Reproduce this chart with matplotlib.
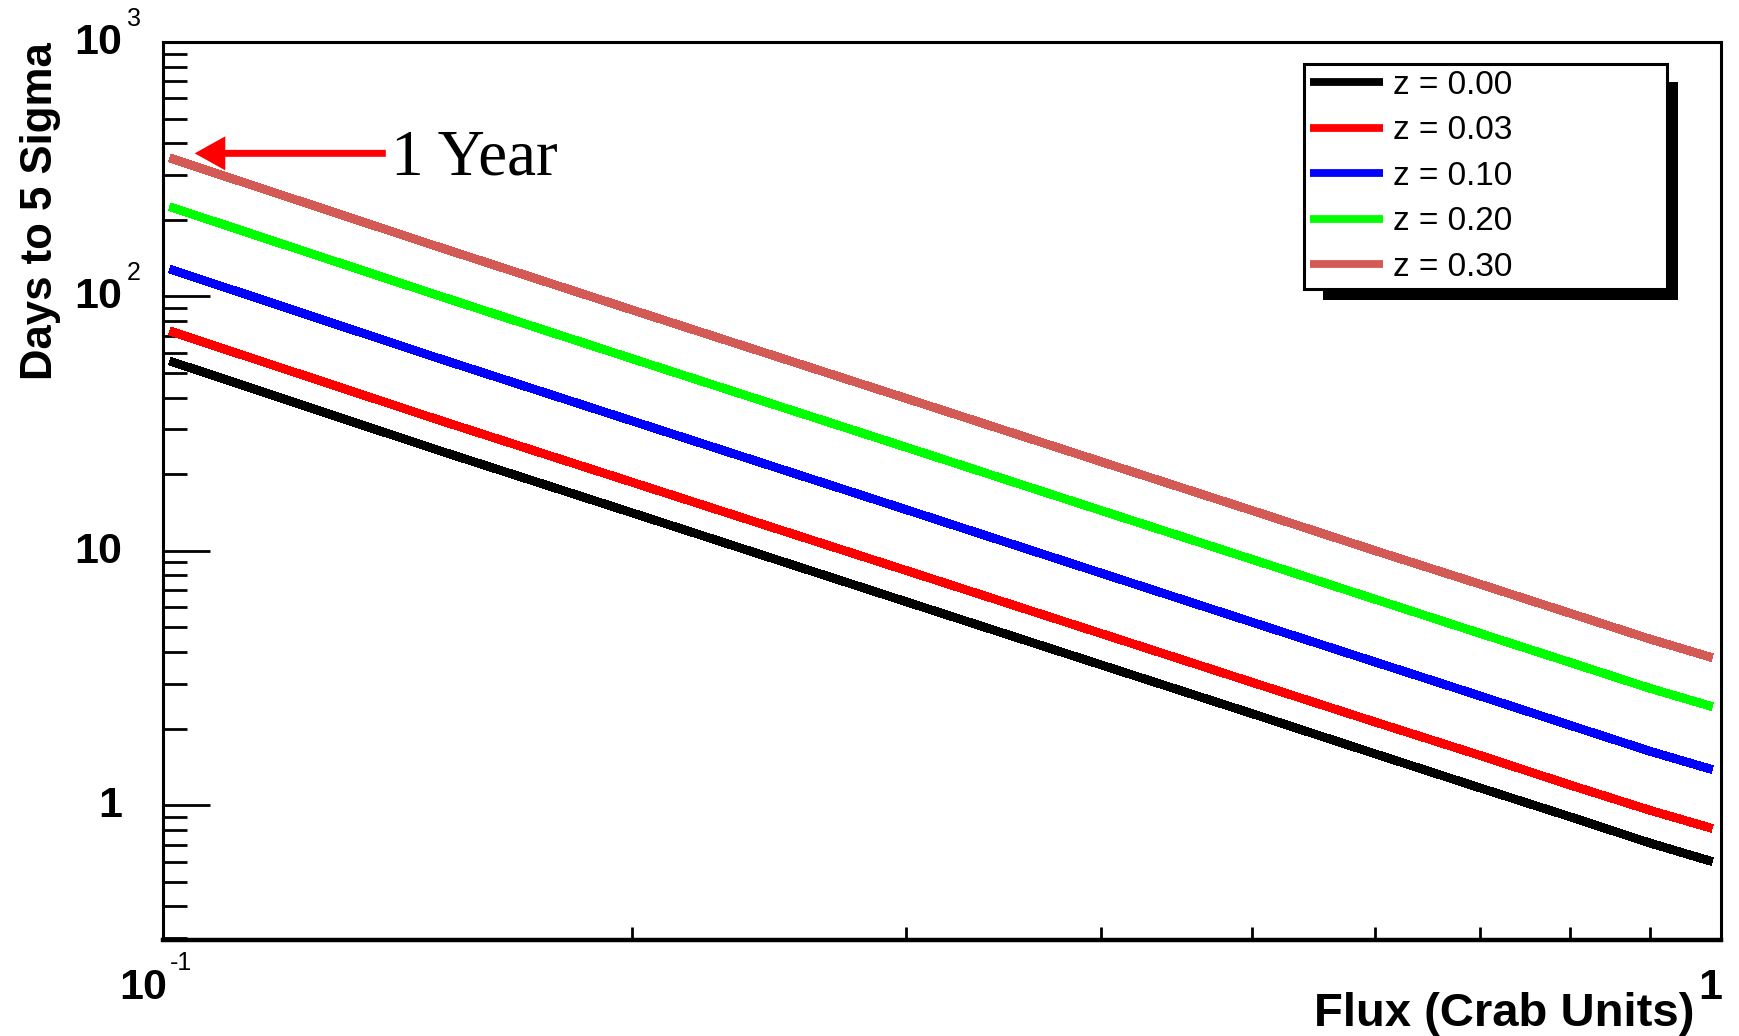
import numpy as np
import matplotlib
matplotlib.use('Agg')
import matplotlib.pyplot as plt
from matplotlib.patches import Rectangle, ArrowStyle
from matplotlib.ticker import LogLocator, NullFormatter, FixedLocator
from matplotlib.transforms import IdentityTransform

plt.rcParams['font.family'] = ['Liberation Sans', 'DejaVu Sans']

# days needed for a 5 sigma detection vs source flux, per redshift
flux = [0.101, 0.15, 0.2, 0.3, 0.4, 0.5, 0.6, 0.7, 0.8, 0.9, 0.987]
days_z000 = [55.7, 24.9, 14.1, 6.3, 3.56, 2.29, 1.59, 1.17, 0.90, 0.71, 0.60]
days_z003 = [73.1, 32.8, 18.6, 8.36, 4.73, 3.04, 2.12, 1.57, 1.20, 0.955, 0.81]
days_z010 = [128, 57.3, 32.4, 14.5, 8.17, 5.24, 3.65, 2.69, 2.06, 1.63, 1.38]
days_z020 = [225, 101, 56.9, 25.5, 14.4, 9.25, 6.44, 4.74, 3.64, 2.88, 2.44]
days_z030 = [350, 157, 88.5, 39.7, 22.4, 14.4, 10.0, 7.40, 5.68, 4.50, 3.80]

series = [days_z000, days_z003, days_z010, days_z020, days_z030]
labels = ['z = 0.00', 'z = 0.03', 'z = 0.10', 'z = 0.20', 'z = 0.30']
colors = ['black', '#ff0000', '#0000ff', '#00ff00', '#d45a55']

one_year = 365

W, H = 1740, 1036
fig = plt.figure(figsize=(W / 100, H / 100), dpi=100)
x0, x1, y0, y1 = 163, 1721, 42, 940
ax = fig.add_axes([x0 / W, 1 - y1 / H, (x1 - x0) / W, (y1 - y0) / H])
ax.set_facecolor('none')

for d, lab, c in zip(series, labels, colors):
    ax.plot(flux, d, color=c, lw=5.6, label=lab, antialiased=False,
            solid_capstyle='butt')

ax.set_xscale('log')
ax.set_yscale('log')
ax.set_xlim(0.1, 1)
ax.set_ylim(0.295, 1000)

# ticks inside, left / bottom only
ax.yaxis.set_major_locator(FixedLocator([1, 10, 100, 1000]))
ax.yaxis.set_minor_locator(LogLocator(base=10, subs=np.arange(2, 10)))
ax.xaxis.set_major_locator(FixedLocator([0.1, 1]))
ax.xaxis.set_minor_locator(FixedLocator(np.arange(2, 10) / 10))
ax.xaxis.set_minor_formatter(NullFormatter())
ax.yaxis.set_minor_formatter(NullFormatter())
ax.tick_params(which='both', direction='in', top=False, right=False,
               labelbottom=False, labelleft=False, width=2, color='black')
ax.tick_params(axis='y', which='major', length=34)
ax.tick_params(axis='y', which='minor', length=17)
ax.tick_params(axis='x', which='major', length=19)
ax.tick_params(axis='x', which='minor', length=9.5)
for s in ['top', 'left', 'right']:
    ax.spines[s].set_linewidth(2.2)
ax.spines['bottom'].set_linewidth(3.2)

px = 0.72  # points per pixel at dpi 100

# y tick labels, ROOT style with superscript exponents
ytl = [(1, '1', None), (10, '10', None), (100, '10', '2'), (1000, '10', '3')]
for v, base, sup in ytl:
    ax.annotate(base, xy=(0, v), xycoords=('axes fraction', 'data'),
                xytext=(-41 * px, -12 * px), textcoords='offset points',
                ha='right', va='baseline', fontsize=31, fontweight='bold')
    if sup:
        ax.annotate(sup, xy=(0, v), xycoords=('axes fraction', 'data'),
                    xytext=(-36 * px, 16 * px), textcoords='offset points',
                    ha='left', va='baseline', fontsize=18)

# x tick labels
ax.annotate('10', xy=(0.1, 0), xycoords=('data', 'axes fraction'),
            xytext=(4 * px, -59 * px), textcoords='offset points',
            ha='right', va='baseline', fontsize=31, fontweight='bold')
ax.annotate('-1', xy=(0.1, 0), xycoords=('data', 'axes fraction'),
            xytext=(7 * px, -30 * px), textcoords='offset points',
            ha='left', va='baseline', fontsize=18)
ax.annotate('1', xy=(1, 0), xycoords=('data', 'axes fraction'),
            xytext=(1 * px, -59 * px), textcoords='offset points',
            ha='right', va='baseline', fontsize=31, fontweight='bold')

ax.set_xlabel('Flux (Crab Units)', fontsize=34, fontweight='bold',
              ha='right', va='baseline')
ax.xaxis.set_label_coords((1695 - x0) / (x1 - x0), -(1026 - y1) / (y1 - y0))
ax.set_ylabel('Days to 5 Sigma', fontsize=31.5, fontweight='bold',
              ha='right', va='baseline', rotation=90, rotation_mode='anchor')
ax.yaxis.set_label_coords(-(x0 - 52) / (x1 - x0), 1.0)

# 1 year marker
ax.annotate('', xy=(0.1048, one_year), xytext=(0.139, one_year),
            arrowprops=dict(arrowstyle=ArrowStyle('simple', head_length=2.2,
                                                  head_width=2.45, tail_width=0.5),
                            mutation_scale=10, fc='red', ec='none', lw=0,
                            shrinkA=0, shrinkB=0))
ax.annotate('1 Year', xy=(0.140, one_year), xytext=(0, -15),
            textcoords='offset points', ha='left', va='baseline',
            fontsize=47, family='Liberation Serif')

# legend box with a hard black shadow
lx0, lx1, ly0, ly1 = 1304, 1667, 64, 290
bb = ((lx0 - x0) / (x1 - x0), (y1 - ly1) / (y1 - y0),
      (lx1 - lx0) / (x1 - x0), (ly1 - ly0) / (y1 - y0))
leg = ax.legend(loc='upper left', bbox_to_anchor=bb, mode='expand',
                borderaxespad=0, fancybox=False, framealpha=1,
                edgecolor='black', prop={'size': 24},
                handlelength=2.2, handletextpad=0.3, borderpad=0.18,
                labelspacing=0.435)
leg.get_frame().set_linewidth(2.2)
fig.canvas.draw()
lb = leg.get_window_extent()
shadow = Rectangle((lb.x0 + 19, lb.y0 - 11), lb.width - 8, lb.height - 7,
                   transform=IdentityTransform(), facecolor='black',
                   edgecolor='none', zorder=4.9, clip_on=False)
ax.add_artist(shadow)

fig.savefig('out.png', dpi=100)
